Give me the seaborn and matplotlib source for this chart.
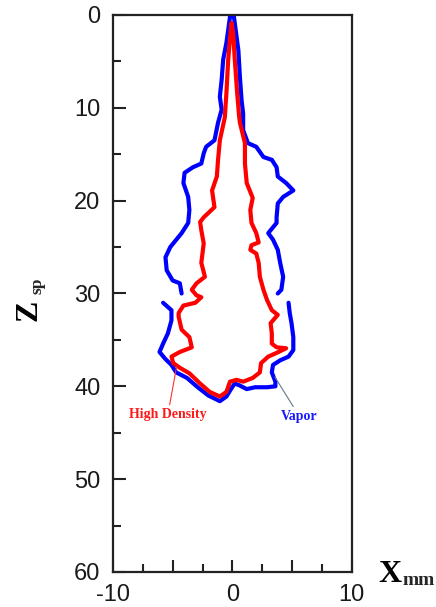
import matplotlib
matplotlib.use("Agg")
import matplotlib.pyplot as plt
import pandas as pd
import seaborn as sns

# Vapor boundary, upper piece: left side going up, right side coming down
vapor_upper_x = [-4.25, -4.4, -5.0, -5.5, -5.6, -5.2, -4.25, -3.7, -3.6, -3.7, -4.1, -4.0, -3.3,
                 -2.6, -2.4, -2.2, -1.5, -1.2, -0.9, -1.05, -0.9, -0.77, -0.5, -0.2, -0.2,
                 0.13, 0.13, 0.5, 0.63, 0.77, 0.9, 0.9, 1.3, 2.0, 2.6, 3.3, 3.7, 3.8, 4.5, 5.1,
                 4.25, 3.8, 3.7, 3.7, 3.0, 3.4, 3.8, 4.0, 4.25, 4.1, 3.8]
vapor_upper_z = [30.0, 28.9, 28.6, 27.5, 26.1, 25.0, 23.5, 22.4, 21.0, 19.6, 18.1, 17.0, 16.4,
                 16.0, 14.9, 14.2, 13.5, 11.6, 10.2, 8.8, 7.0, 4.8, 3.0, 0.2, 0.0,
                 0.0, 0.2, 3.8, 6.7, 9.2, 10.6, 12.4, 13.8, 14.2, 15.3, 15.6, 16.4, 17.4, 18.1, 18.9,
                 19.6, 20.3, 21.8, 22.4, 23.5, 24.2, 25.3, 26.7, 28.2, 29.6, 30.0]

# Vapor boundary, lower piece: left top, around the bottom, right top
vapor_lower_x = [-5.8, -5.1, -5.1, -5.4, -5.8, -6.1, -5.65, -5.1, -4.7, -3.8, -2.9, -2.0, -1.05,
                 -0.5, -0.07, 0.2, 0.6, 1.2, 1.9, 2.9, 3.6, 3.6, 3.3, 3.4, 4.0, 4.7, 5.1, 5.1,
                 4.95, 4.8, 4.7]
vapor_lower_z = [31.0, 31.8, 32.9, 34.3, 35.4, 36.3, 37.0, 37.7, 38.5, 39.1, 40.1, 41.0, 41.6,
                 41.1, 40.2, 39.7, 39.9, 40.3, 40.1, 40.1, 40.0, 39.5, 38.5, 37.7, 37.2, 36.8, 36.1, 34.7,
                 33.2, 32.1, 31.0]

# High density boundary: from the tip, down the left side, around, up the right side
dense_x = [-0.07, -0.2, -0.35, -0.5, -0.63, -1.05, -1.2, -1.3, -1.7, -1.5, -2.4, -2.7, -2.6,
           -2.4, -2.6, -2.3, -3.0, -3.4, -3.0, -2.6, -3.1, -4.1, -4.5, -4.5, -4.25, -3.6, -3.4,
           -4.4, -5.1, -4.95, -4.4, -3.6, -2.7, -1.9, -1.05, -0.5, -0.2, 0.35, 0.9, 1.7, 2.3,
           2.4, 3.0, 3.7, 4.5, 3.7, 3.3, 3.3, 3.2, 3.8, 3.3, 2.9, 2.6, 2.3, 2.2, 2.0, 1.5, 1.6,
           2.2, 2.0, 1.6, 1.5, 1.7, 1.2, 1.05, 1.05, 0.63, 0.57, 0.4, 0.2, 0.07, -0.07]
dense_z = [0.9, 2.5, 4.8, 8.4, 11.0, 13.5, 15.6, 17.4, 18.9, 20.7, 21.8, 22.3, 23.2,
           24.6, 26.7, 28.2, 28.9, 29.6, 30.2, 30.4, 31.0, 31.3, 32.1, 32.5, 33.9, 34.7, 35.8,
           36.3, 36.8, 37.5, 38.0, 38.6, 39.7, 40.6, 41.1, 40.6, 39.5, 39.3, 39.5, 39.1, 38.5,
           37.5, 36.8, 36.4, 35.9, 35.8, 35.4, 34.3, 33.2, 32.3, 31.8, 30.7, 29.6, 28.2, 26.7, 25.7, 25.3, 24.8,
           24.5, 23.5, 22.4, 21.0, 19.7, 18.1, 16.0, 13.8, 11.6, 11.0, 8.4, 4.8, 2.0, 0.9]

x_ticks = [-10, -5, 0, 5, 10]
x_tick_labels = ["-10", "", "0", "", "10"]
x_minor = [-7.5, -2.5, 2.5, 7.5]
z_ticks = [0, 10, 20, 30, 40, 50, 60]
z_minor = [5, 15, 25, 35, 45, 55]

df = pd.concat(
    [
        pd.DataFrame({"X": vapor_upper_x, "Z": vapor_upper_z, "piece": 0, "phase": "Vapor"}),
        pd.DataFrame({"X": vapor_lower_x, "Z": vapor_lower_z, "piece": 1, "phase": "Vapor"}),
        pd.DataFrame({"X": dense_x, "Z": dense_z, "piece": 2, "phase": "High Density"}),
    ],
    ignore_index=True,
)

sns.set_style("ticks")
plt.rcParams["font.family"] = ["Liberation Sans", "DejaVu Sans"]
serif = ["Liberation Serif", "DejaVu Serif"]

fig = plt.figure(figsize=(4.36, 6.07), dpi=100)
ax = fig.add_axes([0.259, 0.0577, 0.548, 0.9176])

sns.lineplot(
    data=df, x="X", y="Z", hue="phase", units="piece", estimator=None, sort=False,
    hue_order=["Vapor", "High Density"], palette={"Vapor": "#0000ff", "High Density": "#ff0000"},
    linewidth=3.0, legend=False, ax=ax,
)

ax.set_xlim(-10, 10)
ax.set_ylim(60, 0)
ax.set_xticks(x_ticks)
ax.set_xticklabels(x_tick_labels)
ax.set_xticks(x_minor, minor=True)
ax.set_yticks(z_ticks)
ax.set_yticks(z_minor, minor=True)
ax.tick_params(which="both", direction="in", width=1.5, color="#222222", top=False, right=False)
ax.tick_params(which="major", length=9, labelsize=17, pad=9, labelcolor="#1a1a1a")
ax.tick_params(which="minor", length=5.5)
for spine in ax.spines.values():
    spine.set_linewidth(1.6)
    spine.set_color("#222222")
# small break in the right frame line
ax.plot([1, 1], [0.046, 0.051], transform=ax.transAxes, color="white", lw=3, clip_on=False)

ax.set_ylabel("Z", fontsize=23, family=serif, fontweight="bold", color="black")
ax.yaxis.set_label_coords(-0.289, 0.47)
ax.annotate("sp", xy=(1, 1), xycoords=ax.yaxis.label, xytext=(1, 4), textcoords="offset points",
            rotation=90, ha="right", va="bottom", fontsize=12.5, family=serif, fontweight="bold")

ax.set_xlabel("X", fontsize=23, family=serif, fontweight="bold", color="black")
ax.xaxis.label.set_va("baseline")
ax.xaxis.set_label_coords(1.161, -0.018)
ax.annotate("mm", xy=(1, 0), xycoords=ax.xaxis.label, xytext=(0.7, 2.9), textcoords="offset points",
            ha="left", va="baseline", fontsize=14, family=serif, fontweight="bold")

ax.annotate("High Density", xy=(-4.67, 37.9), xytext=(-5.4, 43.4), color="#ff1a1a", fontsize=10,
            family=serif, fontweight="bold", ha="center", va="baseline",
            arrowprops=dict(arrowstyle="-", color="#ff3030", lw=0.8, shrinkA=0, shrinkB=0))
ax.annotate("Vapor", xy=(3.56, 39.0), xytext=(5.6, 43.6), color="#1a1aff", fontsize=10,
            family=serif, fontweight="bold", ha="center", va="baseline",
            arrowprops=dict(arrowstyle="-", color="#607888", lw=0.8, shrinkA=0, shrinkB=0))

fig.savefig("out.png", dpi=100)
